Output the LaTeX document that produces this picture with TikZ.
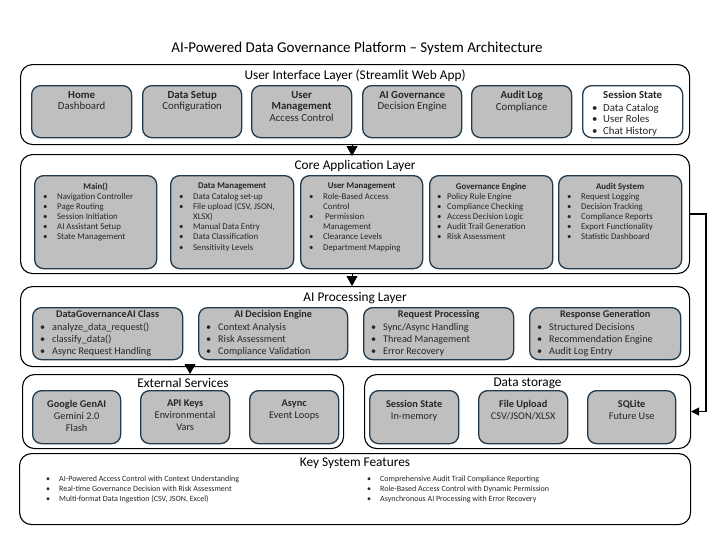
\documentclass[tikz,border=0pt]{standalone}
\usepackage{fontspec}
\setmainfont{Carlito}
\usetikzlibrary{arrows.meta}
\definecolor{cardfill}{HTML}{BFBFBF}
\definecolor{cardline}{HTML}{223A4B}
\definecolor{textc}{HTML}{262626}
\newcommand\fTitle{\fontsize{15}{17}\selectfont}
\newcommand\fLay{\fontsize{13.3}{15}\selectfont}
\newcommand\fUI{\fontsize{10.8}{11.6}\selectfont}
\newcommand\fCore{\fontsize{8.8}{10.2}\selectfont}
\newcommand\fAI{\fontsize{10.2}{12}\selectfont}
\newcommand\fExt{\fontsize{10.3}{12}\selectfont}
\newcommand\fFeat{\fontsize{8}{10}\selectfont}
\newcommand\bu[1][14pt]{\makebox[#1][l]{•}}
\newcommand\rbox[6]{\node[#6, anchor=north west, minimum width={(#4-#2)*1pt}, minimum height={(#5-#3)*1pt}] (#1) at (#2,#3) {};}
\tikzset{
  layer/.style={draw=black, line width=1.1pt, rounded corners=12pt, fill=white, inner sep=0pt},
  card/.style={draw=cardline, line width=1.3pt, rounded corners=9pt, fill=cardfill, inner sep=0pt},
  wcard/.style={card, fill=white},
  tx/.style={anchor=north, inner sep=0pt, align=center, text=textc},
  lst/.style={anchor=north west, inner sep=0pt, align=left, text=textc},
  laytx/.style={anchor=north, inner sep=0pt, align=center, text=black, font=\fLay},
  down/.style={line width=0.8pt, -{Triangle[width=11pt,length=10pt]}},
  conn/.style={line width=1.2pt, -{Triangle[width=8pt,length=8pt]}},
}
\begin{document}
\begin{tikzpicture}[x=1pt,y=-1pt]
\useasboundingbox[fill=white] (0,0) rectangle (714,535);
% title
\node[anchor=north, inner sep=0pt, font=\fTitle] (title) at (357,42) {AI-Powered Data Governance Platform – System Architecture};

% ---------- UI layer
\rbox{ui}{20}{64}{689}{144}{layer}
\node[laytx] (uil) at ([yshift=-5.7pt]ui.north) {User Interface Layer (Streamlit Web App)};
\rbox{home}{31}{85}{131}{137}{card}
\rbox{dsetup}{142}{85}{241}{137}{card}
\rbox{umgmt}{251}{85}{351}{137}{card}
\rbox{aigov}{362}{85}{461}{137}{card}
\rbox{alog}{471}{85}{571}{137}{card}
\rbox{sess}{582}{85}{682}{137}{wcard}
\node[tx, font=\fUI] (homet) at ([yshift=-6pt]home.north) {\textbf{Home}\\Dashboard};
\node[tx, font=\fUI] (dsetupt) at ([yshift=-6pt]dsetup.north) {\textbf{Data Setup}\\Configuration};
\node[tx, font=\fUI] (umgmtt) at ([yshift=-6pt]umgmt.north) {\textbf{User}\\\textbf{Management}\\Access Control};
\node[tx, font=\fUI] (aigovt) at ([yshift=-6pt]aigov.north) {\textbf{AI Governance}\\Decision Engine};
\node[tx, font=\fUI] (alogt) at ([yshift=-6pt]alog.north) {\textbf{Audit Log}\\Compliance};
\node[tx, font=\fUI] (sesst) at ([yshift=-6pt]sess.north) {\textbf{Session State}};
\node[lst, font=\fUI] (sessl) at ([xshift=10pt,yshift=-18.6pt]sess.north west) {\bu[11pt]Data Catalog\\\bu[11pt]User Roles\\\bu[11pt]Chat History};

% ---------- Core layer
\rbox{core}{20}{154}{689}{273}{layer}
\node[laytx] (corel) at ([yshift=-6.2pt]core.north) {Core Application Layer};
\rbox{mainb}{34}{175}{156}{268}{card}
\rbox{dmgmt}{170}{175}{293}{268}{card}
\rbox{cumgmt}{300}{175}{422}{268}{card}
\rbox{gov}{429}{175}{552}{268}{card}
\rbox{audit}{558}{175}{681}{268}{card}
\node[tx, font=\fCore\bfseries] (maint) at ([yshift=-7.8pt]mainb.north) {Main()};
\node[tx, font=\fCore\bfseries] (dmgmtt) at ([yshift=-7.8pt]dmgmt.north) {Data Management};
\node[tx, font=\fCore\bfseries] (cumgmtt) at ([yshift=-7.8pt]cumgmt.north) {User Management};
\node[tx, font=\fCore\bfseries] (govt) at ([yshift=-7.8pt]gov.north) {Governance Engine};
\node[tx, font=\fCore\bfseries] (auditt) at ([yshift=-7.8pt]audit.north) {Audit System};
\node[lst, font=\fCore] (mainl) at ([xshift=9pt,yshift=-17.8pt]mainb.north west) {\bu Navigation Controller\\\bu Page Routing\\\bu Session Initiation\\\bu AI Assistant Setup\\\bu State Management};
\node[lst, font=\fCore] (dmgmtl) at ([xshift=9pt,yshift=-17.8pt]dmgmt.north west) {\bu Data Catalog set-up\\\bu File upload (CSV, JSON,\\\hspace*{14pt}XLSX)\\\bu Manual Data Entry\\\bu Data Classification\\\bu Sensitivity Levels};
\node[lst, font=\fCore] (cumgmtl) at ([xshift=9pt,yshift=-17.8pt]cumgmt.north west) {\bu Role-Based Access\\\hspace*{14pt}Control\\\bu\hspace{2pt}Permission\\\hspace*{14pt}Management\\\bu Clearance Levels\\\bu Department Mapping};
\node[lst, font=\fCore] (govl) at ([xshift=8pt,yshift=-17.8pt]gov.north west) {\bu[10pt]Policy Rule Engine\\\bu[10pt]Compliance Checking\\\bu[10pt]Access Decision Logic\\\bu[10pt]Audit Trail Generation\\\bu[10pt]Risk Assessment};
\node[lst, font=\fCore] (auditl) at ([xshift=9pt,yshift=-17.8pt]audit.north west) {\bu Request Logging\\\bu Decision Tracking\\\bu Compliance Reports\\\bu Export Functionality\\\bu Statistic Dashboard};

% ---------- AI layer
\rbox{ai}{20}{286}{689}{366}{layer}
\node[laytx] (ail) at ([yshift=-5.7pt]ai.north) {AI Processing Layer};
\rbox{dgai}{32}{307}{182}{359}{card}
\rbox{aide}{198}{307}{347}{359}{card}
\rbox{reqp}{363}{307}{513}{359}{card}
\rbox{resg}{529}{307}{680}{359}{card}
\node[tx, font=\fAI\bfseries] (dgait) at ([yshift=-3.3pt]dgai.north) {DataGovernanceAI Class};
\node[tx, font=\fAI\bfseries] (aidet) at ([yshift=-3.3pt]aide.north) {AI Decision Engine};
\node[tx, font=\fAI\bfseries] (reqpt) at ([yshift=-3.3pt]reqp.north) {Request Processing};
\node[tx, font=\fAI\bfseries] (resgt) at ([yshift=-3.3pt]resg.north) {Response Generation};
\node[lst, font=\fAI] (dgail) at ([xshift=8pt,yshift=-16pt]dgai.north west) {\bu[12pt]analyze\_data\_request()\\\bu[12pt]classify\_data()\\\bu[12pt]Async Request Handling};
\node[lst, font=\fAI] (aidel) at ([xshift=8pt,yshift=-16pt]aide.north west) {\bu[12pt]Context Analysis\\\bu[12pt]Risk Assessment\\\bu[12pt]Compliance Validation};
\node[lst, font=\fAI] (reqpl) at ([xshift=8pt,yshift=-16pt]reqp.north west) {\bu[12pt]Sync/Async Handling\\\bu[12pt]Thread Management\\\bu[12pt]Error Recovery};
\node[lst, font=\fAI] (resgl) at ([xshift=8pt,yshift=-16pt]resg.north west) {\bu[12pt]Structured Decisions\\\bu[12pt]Recommendation Engine\\\bu[12pt]Audit Log Entry};

% ---------- External services
\rbox{ext}{22}{374}{343}{448}{layer}
\node[laytx] (extl) at ([yshift=-3.8pt]ext.north) {External Services};
\rbox{gen}{32}{390}{120}{443}{card}
\rbox{api}{140}{390}{229}{443}{card}
\rbox{async}{249}{390}{338}{443}{card}
\node[tx, font=\fExt] (gent) at ([yshift=-10pt]gen.north) {\textbf{Google GenAI}\\Gemini 2.0\\Flash};
\node[tx, font=\fExt] (apit) at ([yshift=-10pt]api.north) {\textbf{API Keys}\\Environmental\\Vars};
\node[tx, font=\fExt] (asynct) at ([yshift=-10pt]async.north) {\textbf{Async}\\Event Loops};

% ---------- Data storage
\rbox{store}{364}{374}{690}{448}{layer}
\node[laytx] (storel) at ([yshift=-3.8pt]store.north) {Data storage};
\rbox{ss}{369}{390}{458}{443}{card}
\rbox{fu}{478}{390}{567}{443}{card}
\rbox{sql}{587}{390}{675}{443}{card}
\node[tx, font=\fExt] (sst) at ([yshift=-10pt]ss.north) {\textbf{Session State}\\In-memory};
\node[tx, font=\fExt] (fut) at ([yshift=-10pt]fu.north) {\textbf{File Upload}\\CSV/JSON/XLSX};
\node[tx, font=\fExt] (sqlt) at ([yshift=-10pt]sql.north) {\textbf{SQLite}\\Future Use};

% ---------- Features
\rbox{feat}{19}{453}{690}{524}{layer}
\node[laytx] (featl) at ([yshift=-4.7pt]feat.north) {Key System Features};
\node[lst, font=\fFeat] (feata) at (46,476) {\bu[13pt]AI-Powered Access Control with Context Understanding\\\bu[13pt]Real-time Governance Decision with Risk Assessment\\\bu[13pt]Multi-format Data Ingestion (CSV, JSON, Excel)};
\node[lst, font=\fFeat] (featb) at (367,476) {\bu[13pt]Comprehensive Audit Trail Compliance Reporting\\\bu[13pt]Role-Based Access Control with Dynamic Permission\\\bu[13pt]Asynchronous AI Processing with Error Recovery};

% ---------- connectors
\coordinate (xa) at (352,0);
\coordinate (xb) at (190,0);
\coordinate (rt) at (706,0);
\draw[down] (ui.south -| xa) -- ([yshift=-2pt]core.north -| xa);
\draw[down] (core.south -| xa) -- (ai.north -| xa);
\draw[down] (ai.south -| xb) -- (ext.north -| xb);
\draw[conn] (core.east) -- (core.east -| rt) |- (store.east);
\end{tikzpicture}
\end{document}
